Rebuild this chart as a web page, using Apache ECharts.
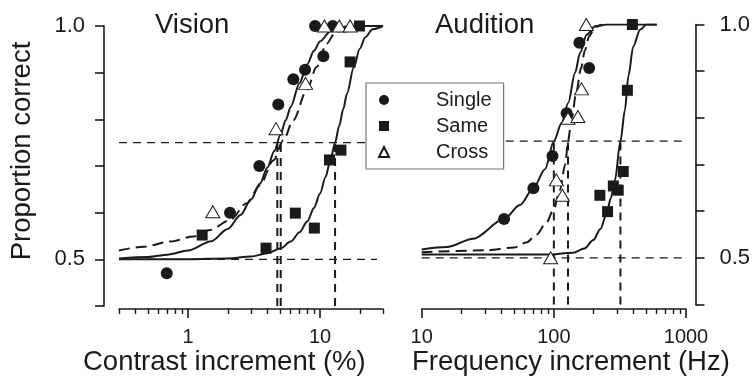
<!DOCTYPE html>
<html><head><meta charset="utf-8">
<script src="https://cdn.jsdelivr.net/npm/echarts@6/dist/echarts.min.js"></script>
<style>html,body{margin:0;padding:0;background:#fff}#c{width:755px;height:382px}</style>
</head><body><div id="c"></div>
<script>
// ---------------- DATA ----------------
// Vision panel (x = contrast increment %, y = proportion correct)
const visionSingleX = [0.69, 2.08, 3.47, 4.83, 6.28, 7.7, 10.6, 9.17, 12.5];
const visionSingleY = [0.47, 0.60, 0.70, 0.832, 0.886, 0.906, 0.935, 1.0, 1.0];
const visionSameX = [1.28, 3.9, 6.5, 9.06, 11.8, 14.4, 16.9, 19.9];
const visionSameY = [0.552, 0.524, 0.599, 0.567, 0.713, 0.734, 0.923, 1.0];
const visionCrossX = [1.54, 4.64, 7.77, 10.8, 14.0, 16.9];
const visionCrossY = [0.602, 0.78, 0.877, 1.0, 1.0, 1.0];

// Vision fitted curves
const visionSingleFitX = [0.3, 0.5, 0.7, 1, 1.5, 2, 2.5, 3, 3.5, 4, 4.5, 5, 5.5, 6, 7, 8, 9, 10, 12, 14, 17, 20, 30];
const visionSingleFitY = [0.502, 0.505, 0.51, 0.519, 0.539, 0.565, 0.595, 0.628, 0.662, 0.697, 0.732, 0.766, 0.798, 0.827, 0.878, 0.918, 0.947, 0.967, 0.989, 0.997, 1.0, 1.0, 1.0];
const visionSameFitX = [0.3, 1, 2, 3, 4, 5, 6, 7, 8, 9, 10, 11, 12, 13, 14, 15, 16, 18, 20, 22, 25, 30];
const visionSameFitY = [0.5, 0.5, 0.502, 0.506, 0.513, 0.523, 0.538, 0.558, 0.581, 0.61, 0.641, 0.676, 0.713, 0.75, 0.787, 0.822, 0.855, 0.911, 0.951, 0.976, 0.993, 1.0];
const visionCrossFitX = [0.3, 0.46, 0.73, 1.1, 1.47, 2.08, 2.78, 3.51, 4.43, 5.27, 6.27, 7.93, 9.42, 11.2, 13, 16];
const visionCrossFitY = [0.519, 0.527, 0.538, 0.549, 0.563, 0.584, 0.62, 0.659, 0.712, 0.755, 0.798, 0.862, 0.912, 0.962, 0.985, 0.998];
const visionThresholds = [4.75, 5.04, 13.0];
const visionLineRange = [0.3, 27];

// Audition panel (x = frequency increment Hz)
const auditionSingleX = [42, 70, 97.7, 125, 156, 185];
const auditionSingleY = [0.583, 0.649, 0.718, 0.81, 0.961, 0.907];
const auditionSameX = [223, 255, 282, 307, 335, 360, 393];
const auditionSameY = [0.634, 0.599, 0.654, 0.645, 0.685, 0.859, 1.0];
const auditionCrossX = [94.6, 104.5, 116, 128, 152, 162, 176];
const auditionCrossY = [0.5, 0.667, 0.634, 0.799, 0.803, 0.862, 1.0];

const auditionSingleFitX = [10, 15.5, 24.5, 42, 55.3, 70, 85.7, 100, 114.5, 128.5, 144.5, 158, 177, 205, 251, 600];
const auditionSingleFitY = [0.518, 0.523, 0.541, 0.583, 0.613, 0.649, 0.69, 0.75, 0.789, 0.832, 0.896, 0.939, 0.978, 0.996, 1.0, 1.0];
const auditionSameFitX = [10, 88, 140, 170, 199, 225, 251, 270, 290, 319, 345, 366, 399, 449, 503, 600];
const auditionSameFitY = [0.507, 0.507, 0.511, 0.52, 0.538, 0.562, 0.595, 0.628, 0.667, 0.75, 0.817, 0.889, 0.953, 0.989, 1.0, 1.0];
const auditionCrossFitX = [10, 30, 50, 62, 74, 88, 100, 111, 122, 128, 136.5, 148, 160, 172, 185, 205, 230];
const auditionCrossFitY = [0.512, 0.516, 0.522, 0.533, 0.55, 0.576, 0.605, 0.645, 0.70, 0.75, 0.80, 0.855, 0.905, 0.945, 0.975, 0.995, 1.0];
const auditionThresholds = [100, 128, 319];
const auditionLineRange = [10, 930];

const referenceLevels = [0.5, 0.75];
const thresholdLevel = 0.75;
const yBottom = 0.4;

// Axis ticks
const visionMajorTicks = [1, 10];
const visionMinorTicks = [0.3, 0.4, 0.5, 0.6, 0.7, 0.8, 0.9, 2, 3, 4, 5, 6, 7, 8, 9, 20, 30];
const auditionMajorTicks = [10, 100, 1000];
const auditionMinorTicks = [20, 30, 40, 50, 60, 70, 80, 90, 200, 300, 400, 500, 600, 700, 800, 900];
const yTicks = [0.4, 0.5, 0.6, 0.7, 0.8, 0.9, 1.0];
const yLabels = [0.5, 1.0];

// ---------------- CHART ----------------
const FONT = "'Liberation Sans', Arial, Helvetica, sans-serif";
const INK = '#1a1a1a';
const lg = v => Math.log10(v);
const pairs = (xs, ys) => xs.map((x, i) => [x, ys[i]]);

const grids = [
  {left: 119, top: 26, width: 264, height: 280},
  {left: 421.7, top: 24.5, width: 264.3, height: 280}
];
const ranges = [[0.3, 30], [10, 1000]];
const majors = [visionMajorTicks, auditionMajorTicks];
const minors = [visionMinorTicks, auditionMinorTicks];
const xOffsets = [3, 4.5];

const xAxis = [];
// data axes (log, hidden)
ranges.forEach((r, g) => xAxis.push({type: 'log', logBase: 10, gridIndex: g, min: r[0], max: r[1], show: false}));
// tick axes
ranges.forEach((r, g) => {
  xAxis.push({
    type: 'value', gridIndex: g, position: 'bottom', offset: xOffsets[g],
    min: lg(r[0]), max: lg(r[1]),
    axisLine: {show: true, onZero: false, lineStyle: {color: INK, width: 1.6}},
    axisTick: {show: true, inside: false, length: 9, lineStyle: {color: INK, width: 1.6}, customValues: majors[g].map(lg)},
    axisLabel: {show: true, margin: 18, fontSize: 20, fontFamily: FONT, color: INK,
      customValues: majors[g].map(lg), formatter: v => String(Math.round(Math.pow(10, v)))},
    splitLine: {show: false}
  });
  xAxis.push({
    type: 'value', gridIndex: g, position: 'bottom', offset: xOffsets[g],
    min: lg(r[0]), max: lg(r[1]),
    axisLine: {show: false, onZero: false},
    axisTick: {show: true, inside: false, length: 5, lineStyle: {color: INK, width: 1.4}, customValues: minors[g].map(lg)},
    axisLabel: {show: false},
    splitLine: {show: false}
  });
});

const yLabelFmt = v => (Math.abs(v - 1) < 1e-6 ? '1.0' : (Math.abs(v - 0.5) < 1e-6 ? '0.5' : ''));
const yAxis = [
  {type: 'value', gridIndex: 0, position: 'left', offset: 15, min: 0.4, max: 1.0,
   axisLine: {show: true, onZero: false, lineStyle: {color: INK, width: 1.6}},
   axisTick: {show: true, length: 9, lineStyle: {color: INK, width: 1.6}, customValues: yTicks},
   axisLabel: {margin: 19, fontSize: 22, fontFamily: FONT, color: INK, customValues: yLabels, formatter: yLabelFmt},
   splitLine: {show: false}},
  {type: 'value', gridIndex: 1, position: 'right', offset: 9.5, min: 0.4, max: 1.0,
   axisLine: {show: true, onZero: false, lineStyle: {color: INK, width: 1.6}},
   axisTick: {show: true, length: 9, lineStyle: {color: INK, width: 1.6}, customValues: yTicks},
   axisLabel: {margin: 24, fontSize: 22, fontFamily: FONT, color: INK, customValues: yLabels, formatter: yLabelFmt},
   splitLine: {show: false}}
];

const series = [];
function refLines(g, range, thresholds) {
  referenceLevels.forEach(lv => series.push({
    type: 'line', name: 'ref', xAxisIndex: g, yAxisIndex: g, symbol: 'none', silent: true, z: 1,
    data: [[range[0], lv], [range[1], lv]],
    lineStyle: {color: INK, width: 1.3, type: [8, 6]}
  }));
  thresholds.forEach(t => series.push({
    type: 'line', name: 'ref', xAxisIndex: g, yAxisIndex: g, symbol: 'none', silent: true, z: 1,
    data: [[t, yBottom], [t, thresholdLevel]],
    lineStyle: {color: INK, width: 2, type: [8, 6]}
  }));
}
function curve(g, xs, ys, dashed) {
  series.push({
    type: 'line', name: 'fit', xAxisIndex: g, yAxisIndex: g, symbol: 'none', silent: true, z: 2,
    smooth: 0.3, smoothMonotone: 'x',
    data: pairs(xs, ys),
    lineStyle: {color: INK, width: 2, type: dashed ? [11, 6] : 'solid'}
  });
}
function points(g, name, xs, ys) {
  const style = {
    Single: {symbol: 'circle', symbolSize: 12, itemStyle: {color: INK, opacity: 1}},
    Same: {symbol: 'rect', symbolSize: 11, itemStyle: {color: INK, opacity: 1}},
    Cross: {symbol: 'triangle', symbolSize: [14, 12], itemStyle: {color: '#fff', borderColor: INK, borderWidth: 1, opacity: 1}}
  }[name];
  series.push(Object.assign({
    type: 'scatter', name: name, xAxisIndex: g, yAxisIndex: g, z: name === 'Cross' ? 4 : 3,
    data: pairs(xs, ys)
  }, style));
}

refLines(0, visionLineRange, visionThresholds);
refLines(1, auditionLineRange, auditionThresholds);
curve(0, visionSingleFitX, visionSingleFitY, false);
curve(0, visionSameFitX, visionSameFitY, false);
curve(0, visionCrossFitX, visionCrossFitY, true);
curve(1, auditionSingleFitX, auditionSingleFitY, false);
curve(1, auditionSameFitX, auditionSameFitY, false);
curve(1, auditionCrossFitX, auditionCrossFitY, true);
points(0, 'Single', visionSingleX, visionSingleY);
points(0, 'Same', visionSameX, visionSameY);
points(0, 'Cross', visionCrossX, visionCrossY);
points(1, 'Single', auditionSingleX, auditionSingleY);
points(1, 'Same', auditionSameX, auditionSameY);
points(1, 'Cross', auditionCrossX, auditionCrossY);

const txt = (text, x, y, size, extra) => Object.assign({
  type: 'text', x: x, y: y, z: 10,
  style: {text: text, fontFamily: FONT, fontSize: size, fill: INK, align: 'left', verticalAlign: 'middle'}
}, extra || {});

const option = {
  animation: false,
  backgroundColor: '#fff',
  grid: grids.map(g => Object.assign({outerBoundsMode: 'none'}, g)),
  xAxis: xAxis,
  yAxis: yAxis,
  legend: {
    data: ['Single', 'Same', 'Cross'],
    orient: 'vertical', left: 366, top: 83,
    padding: [7, 12, 7, 12],
    itemWidth: 10, itemHeight: 10, itemGap: 6,
    backgroundColor: '#fff', borderColor: '#777', borderWidth: 1.2, borderRadius: 0,
    selectedMode: false,
    textStyle: {fontFamily: FONT, fontSize: 20, color: INK, padding: [0, 0, 0, 42]}
  },
  graphic: [
    txt('Vision', 155, 25, 27.5),
    txt('Audition', 435, 25, 27.5),
    txt('Contrast increment (%)', 83, 362, 27.5),
    txt('Frequency increment (Hz)', 412, 362, 27.5),
    txt('Proportion correct', 22, 151, 27.5, {rotation: Math.PI / 2, style: {text: 'Proportion correct', fontFamily: FONT, fontSize: 27.5, fill: INK, align: 'center', verticalAlign: 'middle'}})
  ],
  series: series
};

const chart = echarts.init(document.getElementById('c'), null, {renderer: 'canvas'});
chart.setOption(option);
</script>
</body></html>
